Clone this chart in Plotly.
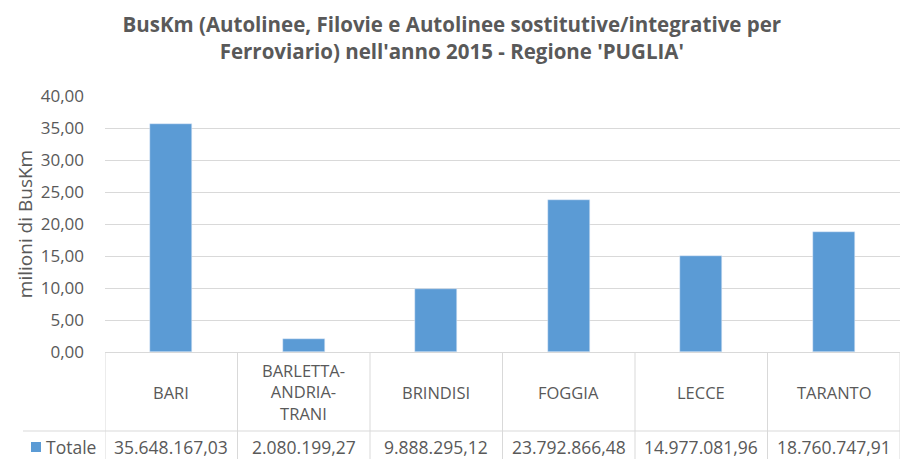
import plotly.graph_objects as go

categories = ["BARI", "BARLETTA-ANDRIA-TRANI", "BRINDISI", "FOGGIA", "LECCE", "TARANTO"]
category_labels = ["BARI", "BARLETTA-<br>ANDRIA-<br>TRANI", "BRINDISI", "FOGGIA", "LECCE", "TARANTO"]
totale = [35648167.03, 2080199.27, 9888295.12, 23792866.48, 14977081.96, 18760747.91]
series_name = "Totale"
title = "BusKm (Autolinee, Filovie e Autolinee sostitutive/integrative per<br>Ferroviario) nell'anno 2015 - Regione 'PUGLIA'"
y_title = "milioni di BusKm"

W, H = 900, 459
L = 105
TOP, BOT = 96, 352
BLUE = "#5B9BD5"
GRAY = "#595959"
LINE = "#D9D9D9"
FONT = "Open Sans"

def py(p):
    return 1 - p / H

def px(p):
    return (p - L) / (W - L)

def fmt_it(v):
    s = f"{v:,.2f}"
    return s.replace(",", "X").replace(".", ",").replace("X", ".")

millions = [v / 1e6 for v in totale]

fig = go.Figure(go.Bar(x=categories, y=millions, marker_color=BLUE, width=0.32, name=series_name))

shapes = []
for i in range(len(categories) + 1):
    shapes.append(dict(type="line", xref="x", yref="paper", x0=i - 0.5, x1=i - 0.5,
                       y0=py(BOT), y1=0, line=dict(color=LINE, width=1)))
shapes.append(dict(type="line", xref="paper", yref="paper", x0=px(23), x1=1,
                   y0=py(431), y1=py(431), line=dict(color=LINE, width=1)))
shapes.append(dict(type="rect", xref="paper", yref="paper", x0=px(31), x1=px(41),
                   y0=py(452), y1=py(442), line=dict(width=0), fillcolor=BLUE))

annotations = []
for c, lab, v in zip(categories, category_labels, totale):
    annotations.append(dict(x=c, xref="x", y=py(392), yref="paper", text=lab, showarrow=False,
                            font=dict(family=FONT, size=16.5, color=GRAY), yanchor="middle",
                            xanchor="center", align="center"))
    annotations.append(dict(x=c, xref="x", y=py(447), yref="paper", text=fmt_it(v), showarrow=False,
                            font=dict(family=FONT, size=17.5, color=GRAY), yanchor="middle",
                            xanchor="center"))
annotations.append(dict(x=px(44), xref="paper", y=py(447), yref="paper", text=series_name,
                        showarrow=False, font=dict(family=FONT, size=17.5, color=GRAY),
                        xanchor="left", yanchor="middle"))

fig.update_layout(
    width=W, height=H,
    margin=dict(l=L, r=0, t=0, b=0, autoexpand=False),
    paper_bgcolor="white", plot_bgcolor="white",
    separators=",.",
    showlegend=False,
    title=dict(text=title, x=0.502, xanchor="center", y=py(32), yanchor="middle",
               font=dict(family=FONT, size=20.5, color=GRAY, weight="bold")),
    xaxis=dict(showticklabels=False, showline=True, linecolor=LINE, ticks="",
               showgrid=False, range=[-0.5, 5.5], automargin=False),
    yaxis=dict(domain=[py(BOT), py(TOP)], range=[0, 40], dtick=5, tickformat=".2f",
               showgrid=True, gridcolor=LINE, zeroline=False, showline=False, automargin=False,
               tickfont=dict(family=FONT, size=17, color=GRAY), ticklabelstandoff=20,
               title=dict(text=y_title, font=dict(family=FONT, size=19, color=GRAY), standoff=3)),
    shapes=shapes,
    annotations=annotations,
    bargap=0,
)

post = ("document.body.style.margin='0';document.body.style.overflow='hidden';"
        "var gd=document.getElementById('{plot_id}');Plotly.relayout(gd,{width:900,height:459});")
fig.write_html("out.html", post_script=post, config={"displayModeBar": False})
